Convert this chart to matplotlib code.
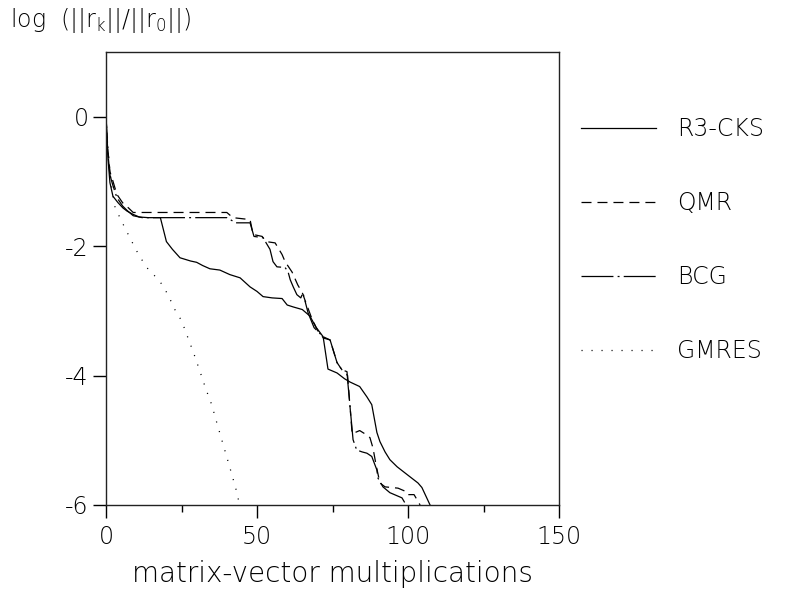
import numpy as np
import matplotlib
matplotlib.use('Agg')
import matplotlib.pyplot as plt

# values
r3_x = [0, 0.6, 1.3, 2.3, 4, 5.6, 7, 9, 11, 14, 18, 20, 22, 24.5, 28, 30, 32, 34.4,
        37.7, 41, 44.4, 47.7, 50, 52, 55, 58.3, 60, 62, 65, 67.5, 69.5, 71.9, 73.5,
        76.5, 79, 80.8, 84, 86.4, 88, 89.7, 90.7, 92.4, 94, 96.4, 99.7, 103.3, 104.6, 107.3]
r3_y = [0, -0.62, -1.02, -1.23, -1.33, -1.41, -1.46, -1.51, -1.55, -1.56, -1.56, -1.93,
        -2.05, -2.18, -2.23, -2.25, -2.3, -2.35, -2.37, -2.44, -2.49, -2.63, -2.7, -2.78,
        -2.8, -2.81, -2.91, -2.94, -2.98, -3.08, -3.25, -3.40, -3.9, -3.96, -4.05, -4.1,
        -4.17, -4.33, -4.45, -4.88, -5.02, -5.18, -5.3, -5.41, -5.53, -5.66, -5.73, -6.0]

qmr_x = [0, 0.6, 1.3, 2, 3.6, 5.5, 7, 9, 15, 25, 40, 42, 47.7, 48.7, 51.7, 53, 56, 58.3,
         59.3, 61.6, 63.5, 65, 66, 68, 70, 72, 74.2, 76.5, 78.1, 80, 81.5, 84, 86.4, 87.4,
         88.4, 89.5, 90.7, 92.4, 96.7, 99.7, 100, 102, 104]
qmr_y = [0, -0.5, -0.85, -0.95, -1.2, -1.33, -1.39, -1.48, -1.48, -1.48, -1.48, -1.56,
         -1.59, -1.82, -1.85, -1.93, -1.95, -2.13, -2.24, -2.4, -2.6, -2.72, -2.85, -3.1,
         -3.3, -3.42, -3.45, -3.8, -3.91, -4.0, -4.9, -4.85, -4.92, -4.96, -5.12, -5.4,
         -5.66, -5.72, -5.74, -5.8, -5.84, -5.84, -6.0]

bcg_x = [0, 0.6, 1.3, 2.2, 3.6, 5.5, 7, 9, 12, 25, 40, 43, 47.7, 49, 52, 54.3, 55.3,
         56.6, 59.3, 60.3, 61, 62, 63.2, 64.5, 65.2, 66.9, 68.9, 71.9, 74.2, 76.5, 78.1,
         79.8, 80, 81.8, 83, 84.8, 86.4, 88, 88.4, 89.7, 90, 91.7, 94, 98, 100]
bcg_y = [0, -0.55, -0.9, -1.05, -1.25, -1.38, -1.45, -1.53, -1.56, -1.56, -1.56, -1.64,
         -1.64, -1.85, -1.87, -2.05, -2.24, -2.32, -2.33, -2.4, -2.52, -2.63, -2.75, -2.8,
         -2.72, -3.03, -3.26, -3.40, -3.45, -3.8, -3.91, -3.94, -4.07, -4.99, -5.15, -5.18,
         -5.2, -5.25, -5.3, -5.46, -5.58, -5.72, -5.81, -5.89, -6.05]

gm_x = [0, 1, 2, 3, 5, 8, 11, 14, 17, 19, 21, 23, 25, 27, 29, 31, 33, 35, 37, 39, 41, 43, 44.5]
gm_y = [0, -0.7, -1.15, -1.4, -1.6, -1.88, -2.15, -2.36, -2.5, -2.62, -2.8, -3.0, -3.15,
        -3.4, -3.65, -3.92, -4.2, -4.45, -4.78, -5.1, -5.42, -5.75, -6.05]

labels = ['R3-CKS', 'QMR', 'BCG', 'GMRES']
x_ticks = [0, 50, 100, 150]
x_minor = [25, 75, 125]
y_ticks = [0, -2, -4, -6]

plt.rcParams['font.family'] = 'DejaVu Sans'
plt.rcParams['font.weight'] = 'light'
plt.rcParams['axes.labelweight'] = 'light'
plt.rcParams['mathtext.fontset'] = 'custom'
plt.rcParams['mathtext.rm'] = 'DejaVu Sans:light'
plt.rcParams['mathtext.it'] = 'DejaVu Sans:light'
plt.rcParams['lines.scale_dashes'] = False
fs = 17

fig = plt.figure(figsize=(7.87, 5.90), dpi=100)
ax = fig.add_axes([0.1347, 0.1441, 0.5756, 0.7678])

lw = 0.9
ax.plot(r3_x, r3_y, color='black', lw=lw, label=labels[0])
ax.plot(qmr_x, qmr_y, color='black', lw=lw, linestyle=(0, (7.2, 4.3)), label=labels[1])
ax.plot(bcg_x, bcg_y, color='black', lw=lw, linestyle=(0, (23, 3, 1.4, 3)), label=labels[2])
ax.plot(gm_x, gm_y, color='black', lw=lw, linestyle=(0, (0.8, 6.4)), label=labels[3])

ax.set_xlim(0, 150)
ax.set_ylim(-6, 1)
ax.set_xticks(x_ticks)
ax.set_xticks(x_minor, minor=True)
ax.set_yticks(y_ticks)
ax.set_yticklabels(['0', '-2', '-4', '-6'])
ax.tick_params(axis='both', which='major', direction='out', length=9.4, width=1,
               labelsize=fs, pad=3)
ax.tick_params(axis='x', which='minor', direction='out', length=5, width=1)
ax.tick_params(axis='x', which='major', pad=5)
for s in ax.spines.values():
    s.set_linewidth(1)
    s.set_color('#222222')

ax.set_xlabel('matrix-vector multiplications', fontsize=20, fontweight='light', labelpad=8)
fig.text(0.013, 0.965, r'log  (||r$_\mathrm{k}$||/||r$_\mathrm{0}$||)', fontsize=fs,
         ha='left', va='center')

ax.legend(loc='upper left', bbox_to_anchor=(1.027, 0.877), frameon=False, fontsize=fs,
          handlelength=3.2, handletextpad=0.9, labelspacing=2.12, borderaxespad=0)

fig.savefig('out.png', dpi=100)
